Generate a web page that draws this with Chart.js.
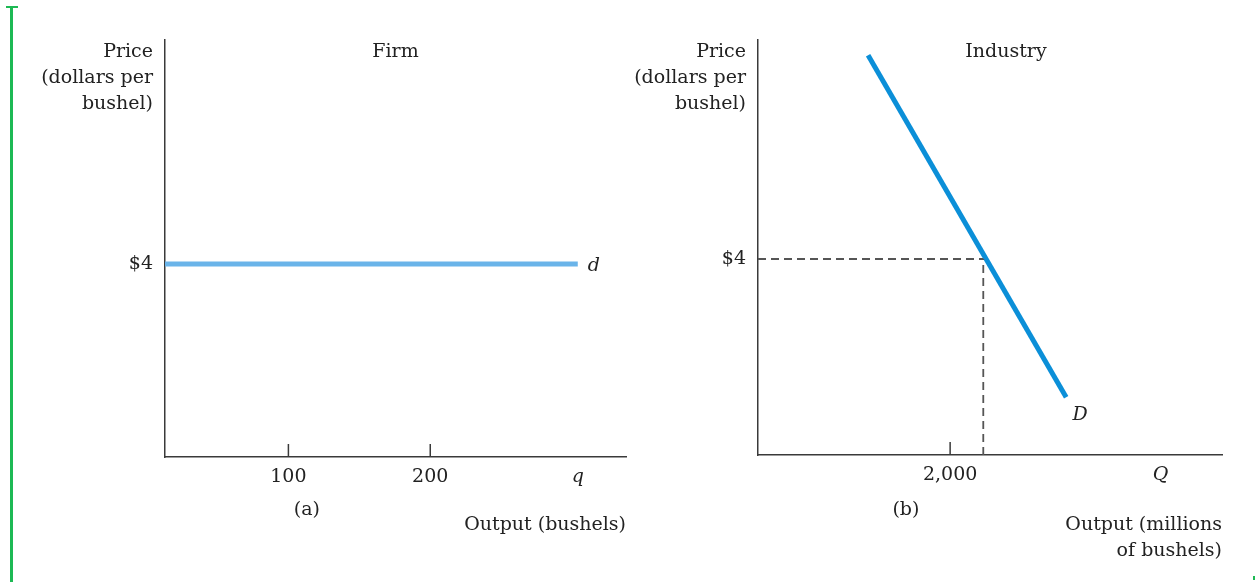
<!DOCTYPE html>
<html>
<head>
<meta charset="utf-8">
<script src="https://cdn.jsdelivr.net/npm/chart.js@4.4.1/dist/chart.umd.min.js"></script>
<style>
  html, body { margin: 0; padding: 0; background: #fff; }
  body { width: 1257px; height: 582px; position: relative; overflow: hidden; }
  #firmBox { position: absolute; left: 0; top: 0; width: 640px; height: 582px; }
  #indBox { position: absolute; left: 610px; top: 0; width: 647px; height: 582px; }
  .mark { position: absolute; background: #1db954; }
</style>
</head>
<body>
<div class="mark" style="left:10px;top:7px;width:3px;height:575px"></div>
<div class="mark" style="left:6px;top:6px;width:12px;height:2px"></div>
<div class="mark" style="left:1253px;top:576px;width:2px;height:4px"></div>
<div id="firmBox"><canvas id="firm"></canvas></div>
<div id="indBox"><canvas id="industry"></canvas></div>
<script>
// ----- Firm (a) -----
const firmQ = [13, 304];
const firmP = [4, 4];
const firmXTicks = [100, 200, 304];
const firmXLabels = ['100', '200', 'q'];
const firmYTicks = [4];
const firmYLabels = ['$4'];

// ----- Industry (b) -----
const demandQ = [1146, 3208];
const demandP = [8.16, 1.18];
const eqQ = 2345;
const eqP = 4;
const indXTicks = [2000, 4190];
const indXLabels = ['2,000', 'Q'];
const indYTicks = [4];
const indYLabels = ['$4'];

const SERIF = '"DejaVu Serif", "Liberation Serif", serif';
const FS = 19;
const AXIS = '#3a3a3a';

function pts(xs, ys) { return xs.map((x, i) => ({ x, y: ys[i] })); }

function tickFont(c) {
    const lbl = c.tick && c.tick.label;
    const it = lbl === 'q' || lbl === 'Q';
    return { family: SERIF, size: FS, style: it ? 'italic' : 'normal' };
}

function textLines(ctx, lines, x, y, align) {
    ctx.textAlign = align;
    lines.forEach((t, i) => ctx.fillText(t, x, y + i * 26));
}

function makeChart(el, cfg) {
    return new Chart(el, {
        type: 'line',
        data: { datasets: cfg.datasets },
        options: {
            animation: false,
            responsive: true,
            maintainAspectRatio: false,
            layout: { padding: { top: 40, right: cfg.padRight, left: 0, bottom: 0 } },
            elements: { point: { radius: 0 }, line: { tension: 0 } },
            plugins: { legend: { display: false }, tooltip: { enabled: false } },
            scales: {
                x: {
                    type: 'linear', min: cfg.xMin, max: cfg.xMax,
                    grid: { display: false, drawTicks: false },
                    border: { display: true, color: AXIS, width: 1.5 },
                    afterBuildTicks: a => { a.ticks = cfg.xTicks.map(v => ({ value: v })); },
                    afterFit: a => { a.height = cfg.xHeight; },
                    ticks: {
                        color: '#222', padding: 9, font: tickFont, maxRotation: 0, autoSkip: false,
                        callback: (v) => cfg.xLabels[cfg.xTicks.indexOf(v)]
                    }
                },
                y: {
                    type: 'linear', min: 0, max: cfg.yMax,
                    grid: { display: false, drawTicks: false },
                    border: { display: true, color: AXIS, width: 1.5 },
                    afterBuildTicks: a => { a.ticks = cfg.yTicks.map(v => ({ value: v })); },
                    afterFit: a => { a.width = cfg.yWidth; },
                    ticks: {
                        color: '#222', padding: 12, font: tickFont, autoSkip: false,
                        callback: (v) => cfg.yLabels[cfg.yTicks.indexOf(v)]
                    }
                }
            }
        },
        plugins: [{
            id: 'decor',
            afterDraw(chart) {
                const { ctx, chartArea: ca, scales: { x, y } } = chart;
                ctx.save();
                // inward tick marks on numeric x ticks
                ctx.strokeStyle = AXIS;
                ctx.lineWidth = 1.5;
                cfg.xTicks.forEach((v, i) => {
                    if (!/^[0-9]/.test(cfg.xLabels[i])) return;
                    const px = x.getPixelForValue(v);
                    ctx.beginPath();
                    ctx.moveTo(px, ca.bottom);
                    ctx.lineTo(px, ca.bottom - 13);
                    ctx.stroke();
                });
                ctx.fillStyle = '#222';
                ctx.textBaseline = 'alphabetic';
                ctx.font = FS + 'px ' + SERIF;
                textLines(ctx, ['Price', '(dollars per', 'bushel)'], ca.left - 12, 57, 'right');
                ctx.textAlign = 'center';
                ctx.fillText(cfg.title, (ca.left + ca.right) / 2 + cfg.titleShift, 57);
                ctx.fillText(cfg.panel, cfg.panelX(x), 515);
                textLines(ctx, cfg.outLines, ca.right, 530, 'right');
                cfg.extra(ctx, x, y);
                ctx.restore();
            }
        }]
    });
}

makeChart(document.getElementById('firm'), {
    datasets: [{
        data: pts(firmQ, firmP), borderColor: '#6ab4e9', borderWidth: 5, borderCapStyle: 'butt'
    }],
    xMin: 13, xMax: 338, yMax: 8.64,
    xTicks: firmXTicks, xLabels: firmXLabels,
    yTicks: firmYTicks, yLabels: firmYLabels,
    padRight: 14, yWidth: 165, xHeight: 125,
    title: 'Firm', titleShift: 0, panel: '(a)',
    panelX: x => x.getPixelForValue(113),
    outLines: ['Output (bushels)'],
    extra(ctx, x, y) {
        ctx.font = 'italic ' + FS + 'px ' + SERIF;
        ctx.textAlign = 'left';
        ctx.textBaseline = 'middle';
        ctx.fillText('d', x.getPixelForValue(firmQ[1]) + 10, y.getPixelForValue(firmP[1]) + 2);
    }
});

makeChart(document.getElementById('industry'), {
    datasets: [
        {
            data: pts([0, eqQ], [eqP, eqP]), borderColor: '#555', borderWidth: 1.8, borderDash: [8, 5]
        },
        {
            data: pts([eqQ, eqQ], [0, eqP]), borderColor: '#555', borderWidth: 1.8, borderDash: [8, 5]
        },
        {
            data: pts(demandQ, demandP), borderColor: '#0b8fd8', borderWidth: 5, borderCapStyle: 'butt'
        }
    ],
    xMin: 0, xMax: 4830, yMax: 8.47,
    xTicks: indXTicks, xLabels: indXLabels,
    yTicks: indYTicks, yLabels: indYLabels,
    padRight: 35, yWidth: 148, xHeight: 127,
    title: 'Industry', titleShift: 16, panel: '(b)',
    panelX: x => x.getPixelForValue(1540),
    outLines: ['Output (millions', 'of bushels)'],
    extra(ctx, x, y) {
        ctx.font = 'italic ' + FS + 'px ' + SERIF;
        ctx.textAlign = 'center';
        ctx.textBaseline = 'middle';
        ctx.fillText('D', x.getPixelForValue(demandQ[1]) + 14, y.getPixelForValue(demandP[1]) + 18);
    }
});
</script>
</body>
</html>
